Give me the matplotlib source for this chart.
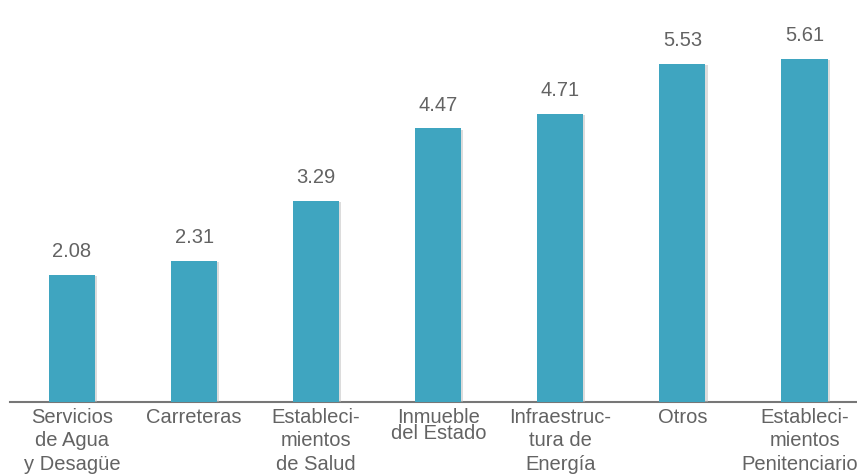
import matplotlib.pyplot as plt
from matplotlib import patheffects

categories = [
    "Servicios\nde Agua\ny Desagüe",
    "Carreteras",
    "Estableci-\nmientos\nde Salud",
    "Inmueble\ndel Estado",
    "Infraestruc-\ntura de\nEnergía",
    "Otros",
    "Estableci-\nmientos\nPenitenciarios",
]
values = [2.08, 2.31, 3.29, 4.47, 4.71, 5.53, 5.61]

BAR_COLOR = "#3fa5c0"
TEXT_COLOR = "#636363"


def main():
    plt.rcParams["font.family"] = ["Liberation Sans", "DejaVu Sans"]

    fig = plt.figure(figsize=(8.57, 4.74), dpi=100)
    ax = fig.add_axes([10 / 857, 72 / 474, 847 / 857, 402 / 474])

    x = range(len(values))
    bars = ax.bar(x, values, width=0.377, color=BAR_COLOR, zorder=3)
    for b in bars:
        b.set_path_effects([
            patheffects.SimplePatchShadow(offset=(1.5, -1), shadow_rgbFace="#bbbbbb", alpha=0.5),
            patheffects.Normal(),
        ])

    # value labels above each bar
    for xi, v in zip(x, values):
        ax.annotate(f"{v:.2f}", (xi, v), xytext=(0, 10), textcoords="offset points",
                    ha="center", va="bottom", fontsize=14.5, color=TEXT_COLOR)

    ax.set_xlim(-0.508, 6.43)
    ax.set_ylim(0, 6.57)

    ax.set_xticks(list(x))
    ax.set_xticklabels(categories, fontsize=14.5, color=TEXT_COLOR, linespacing=1.3)
    ax.get_xticklabels()[3].set_linespacing(0.8)
    ax.tick_params(axis="x", length=0, pad=4)
    ax.set_yticks([])

    for side in ("top", "right", "left"):
        ax.spines[side].set_visible(False)
    ax.spines["bottom"].set_color("#777777")
    ax.spines["bottom"].set_linewidth(1.5)

    fig.savefig("out.png", dpi=100)


if __name__ == "__main__":
    main()
